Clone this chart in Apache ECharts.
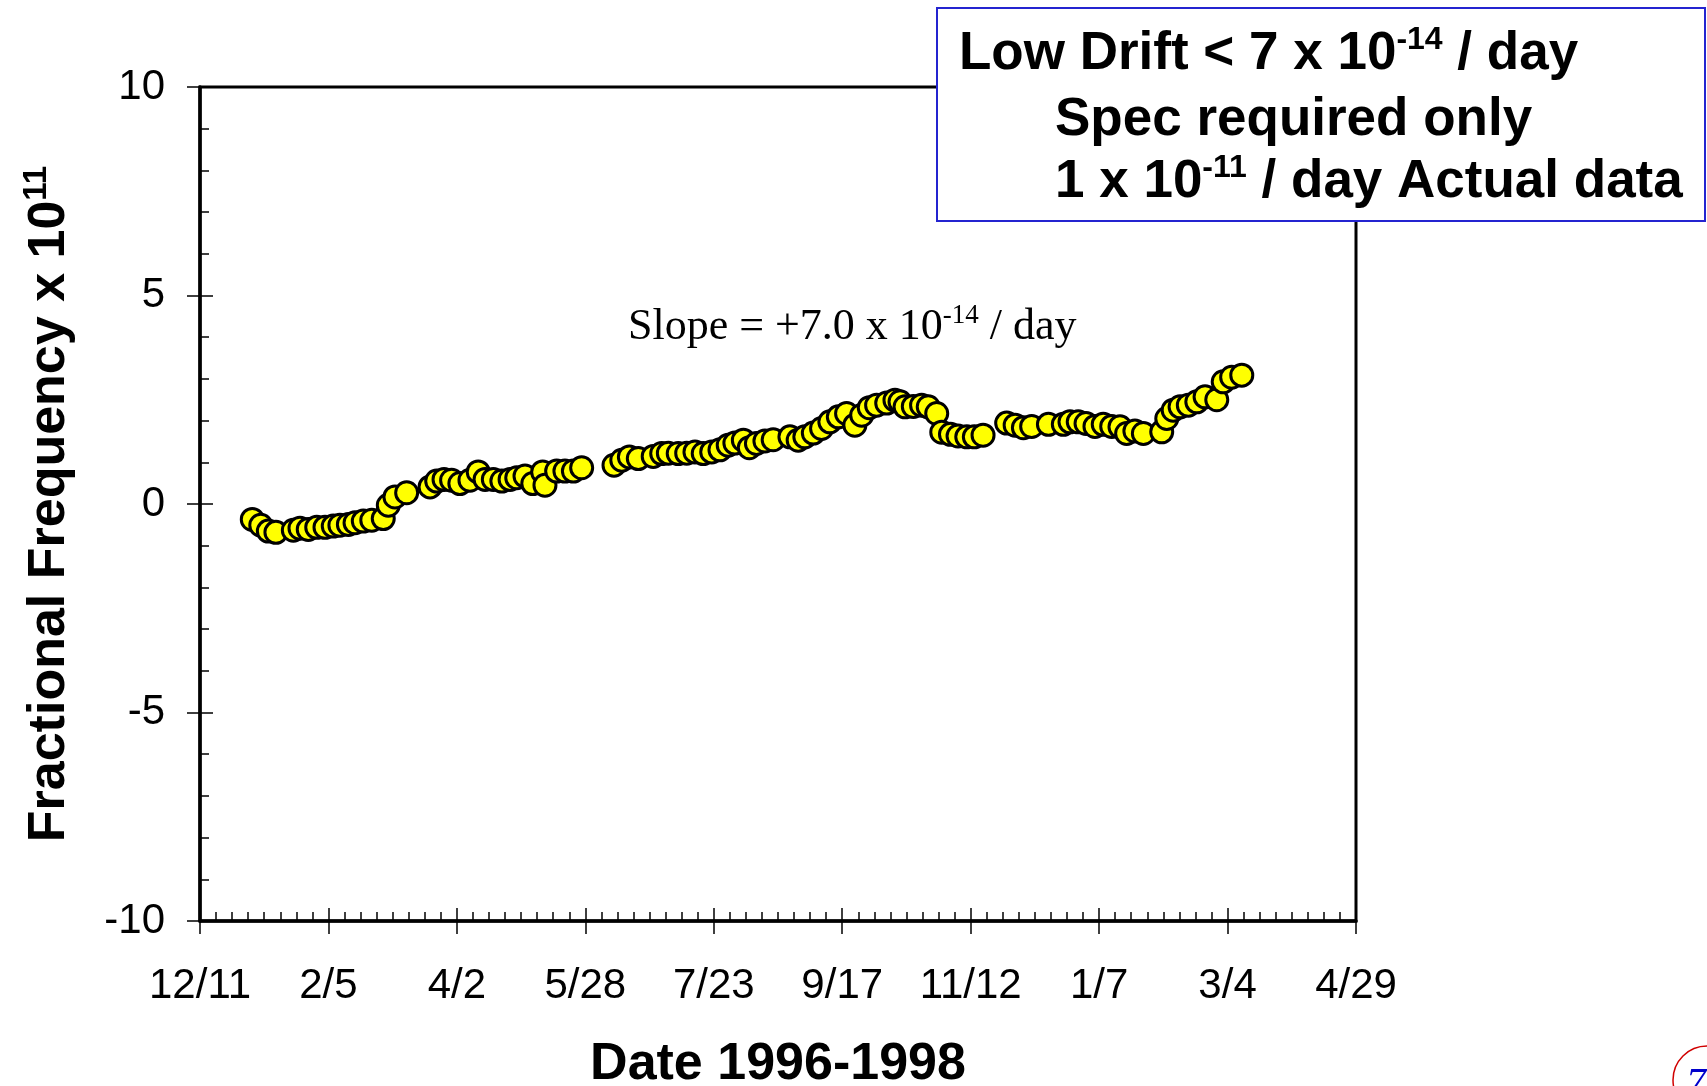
<!DOCTYPE html>
<html><head><meta charset="utf-8">
<script src="https://cdn.jsdelivr.net/npm/echarts@6/dist/echarts.min.js"></script>
<style>html,body{margin:0;padding:0;background:#fff}#c{width:1707px;height:1086px}</style>
</head><body><div id="c"></div>
<script>
// x tick labels (every 56 days starting 12/11/1996)
const tickLabels = ['12/11','2/5','4/2','5/28','7/23','9/17','11/12','1/7','3/4','4/29'];
// days since 12/11/1996
const dayOffsets = [
  22.8, 26.5, 29.8, 33.1, 40.7, 43.6, 47.2, 50.9, 54.5, 58.1, 61.0, 64.7, 67.6, 71.2, 74.9, 79.9, 82.1, 85.0, 90.1,
  100.3, 103.2, 106.4, 109.7, 113.3, 117.7, 121.3, 124.3, 127.9, 131.6, 135.2, 138.1, 141.7, 145.1, 149.4, 150.4, 155.5, 159.1, 162.8, 166.4,
  180.5, 183.9, 187.2, 191.1, 197.6, 201.3, 204.2, 208.5, 212.2, 215.8, 219.4, 223.1, 226.7, 230.3, 233.2, 236.9, 239.5, 242.6, 246.3, 249.9,
  257.2, 260.8, 263.7, 267.4, 271.0, 274.6, 278.3, 281.9, 285.5, 288.5, 291.8, 295.0, 299.4, 303.0, 305.2, 307.4, 311.0, 314.6, 317.5, 321.2,
  323.4, 327.2, 330.5, 334.3, 337.6, 341.4,
  351.7, 355.4, 359.0, 362.6, 369.9, 376.4, 379.3, 382.9, 386.3, 390.2, 393.8, 397.5, 401.1, 404.0, 407.6, 411.3,
  419.3, 421.5, 424.3, 427.3, 430.9, 434.6, 438.2, 443.3, 446.1, 449.8, 454.2
];
// fractional frequency x 10^11
const fracFreq = [
  -0.37, -0.51, -0.65, -0.68, -0.63, -0.58, -0.61, -0.56, -0.56, -0.53, -0.51, -0.49, -0.45, -0.41, -0.39, -0.35, -0.03, 0.17, 0.27,
  0.41, 0.55, 0.59, 0.57, 0.49, 0.57, 0.77, 0.59, 0.59, 0.55, 0.59, 0.63, 0.67, 0.49, 0.77, 0.45, 0.79, 0.79, 0.79, 0.87,
  0.93, 1.05, 1.13, 1.09, 1.14, 1.21, 1.22, 1.21, 1.22, 1.25, 1.21, 1.25, 1.30, 1.41, 1.46, 1.53, 1.35, 1.45, 1.51, 1.54,
  1.61, 1.53, 1.61, 1.70, 1.81, 1.97, 2.09, 2.17, 1.89, 2.13, 2.31, 2.37, 2.42, 2.49, 2.45, 2.33, 2.34, 2.37, 2.33, 2.17,
  1.72, 1.67, 1.63, 1.61, 1.61, 1.65,
  1.94, 1.89, 1.83, 1.86, 1.91, 1.91, 1.97, 1.97, 1.93, 1.86, 1.91, 1.86, 1.85, 1.69, 1.75, 1.69,
  1.73, 2.05, 2.25, 2.33, 2.37, 2.45, 2.57, 2.50, 2.93, 3.04, 3.09
];
const xMin = 0, xMax = 504, xStep = 56;
const yMin = -10, yMax = 10, yStep = 5;

const SANS = '"Liberation Sans", Arial, sans-serif';
const SERIF = '"Liberation Serif", "Times New Roman", serif';

const chart = echarts.init(document.getElementById('c'));
const tickStyle = {color:'#000', width:1.5};
const option = {
  animation:false,
  backgroundColor:'#fff',
  grid:{left:200, top:87, width:1156, height:834, show:true, borderColor:'#000', borderWidth:3,
        backgroundColor:'transparent', containLabel:false, outerBoundsMode:'none'},
  xAxis:[
    {type:'value', min:xMin, max:xMax, interval:xStep, position:'bottom',
     axisLine:{show:true, onZero:false, lineStyle:{color:'#000', width:3.5}},
     axisTick:{show:true, inside:false, length:13, lineStyle:tickStyle},
     axisLabel:{show:true, margin:44, fontFamily:SANS, fontSize:42, color:'#000',
       formatter:function(v){return tickLabels[Math.round((v - xMin)/xStep)];}},
     splitLine:{show:false},
     name:'Date 1996-1998', nameLocation:'middle', nameGap:118,
     nameTextStyle:{fontFamily:SANS, fontWeight:'bold', fontSize:52, color:'#000'}},
    {type:'value', min:xMin, max:xMax, interval:xStep, position:'bottom',
     axisLine:{show:false, onZero:false},
     axisTick:{show:true, inside:true, length:13, lineStyle:tickStyle},
     minorTick:{show:true, splitNumber:8, length:9, lineStyle:tickStyle},
     axisLabel:{show:false}, splitLine:{show:false}}
  ],
  yAxis:[
    {type:'value', min:yMin, max:yMax, interval:yStep, position:'left',
     axisLine:{show:true, onZero:false, lineStyle:{color:'#000', width:3.5}},
     axisTick:{show:true, inside:false, length:13, lineStyle:tickStyle},
     axisLabel:{show:true, margin:35, fontFamily:SANS, fontSize:42, color:'#000'},
     splitLine:{show:false},
     name:'Fractional Frequency x 10{sup|11}', nameLocation:'middle', nameGap:120,
     nameTextStyle:{fontFamily:SANS, fontWeight:'bold', fontSize:52, lineHeight:60, color:'#000',
       rich:{sup:{fontFamily:SANS, fontWeight:'bold', fontSize:33, lineHeight:40, verticalAlign:'top', color:'#000'}}}},
    {type:'value', min:yMin, max:yMax, interval:yStep, position:'left',
     axisLine:{show:false, onZero:false},
     axisTick:{show:true, inside:true, length:13, lineStyle:tickStyle},
     minorTick:{show:true, splitNumber:5, length:9, lineStyle:tickStyle},
     axisLabel:{show:false}, splitLine:{show:false}}
  ],
  series:[{
    type:'scatter', xAxisIndex:0, yAxisIndex:0,
    data: dayOffsets.map(function(d,i){return [d, fracFreq[i]];}),
    symbol:'circle', symbolSize:22,
    itemStyle:{color:'#ffff00', borderColor:'#000', borderWidth:3, opacity:1},
    emphasis:{disabled:true}, z:5
  }],
  graphic:[
    {type:'text', x:628, y:327, z:50, style:{
      text:'Slope = +7.0 x 10{sup|-14} / day', fill:'#000',
      fontFamily:SERIF, fontSize:44, lineHeight:50, align:'left', verticalAlign:'middle',
      rich:{sup:{fontFamily:SERIF, fontSize:27, lineHeight:30, verticalAlign:'top', fill:'#000'}}}},
    {type:'rect', z:100, shape:{x:937, y:8, width:768, height:213},
     style:{fill:'#fff', stroke:'#2424d0', lineWidth:2}},
    {type:'text', x:959, y:54, z:101, style:{
      text:'Low Drift < 7 x 10{sup|-14} / day', fill:'#000',
      fontFamily:SANS, fontWeight:'bold', fontSize:53, lineHeight:60, align:'left', verticalAlign:'middle',
      rich:{sup:{fontFamily:SANS, fontWeight:'bold', fontSize:32, lineHeight:44, verticalAlign:'top', fill:'#000'}}}},
    {type:'text', x:1055, y:120, z:101, style:{
      text:'Spec required only', fill:'#000',
      fontFamily:SANS, fontWeight:'bold', fontSize:53, lineHeight:60, align:'left', verticalAlign:'middle'}},
    {type:'text', x:1055, y:182, z:101, style:{
      text:'1 x 10{sup|-11} / day Actual data', fill:'#000',
      fontFamily:SANS, fontWeight:'bold', fontSize:53, lineHeight:60, align:'left', verticalAlign:'middle',
      rich:{sup:{fontFamily:SANS, fontWeight:'bold', fontSize:32, lineHeight:44, verticalAlign:'top', fill:'#000'}}}},
    {type:'circle', z:60, shape:{cx:1707, cy:1080, r:34}, style:{fill:'none', stroke:'#d00000', lineWidth:1.5}},
    {type:'text', x:1686, y:1064, z:61, style:{text:'7', fill:'#0000cc', fontFamily:SERIF, fontStyle:'italic', fontSize:40, align:'left', verticalAlign:'top'}}
  ]
};
chart.setOption(option);
</script></body></html>
